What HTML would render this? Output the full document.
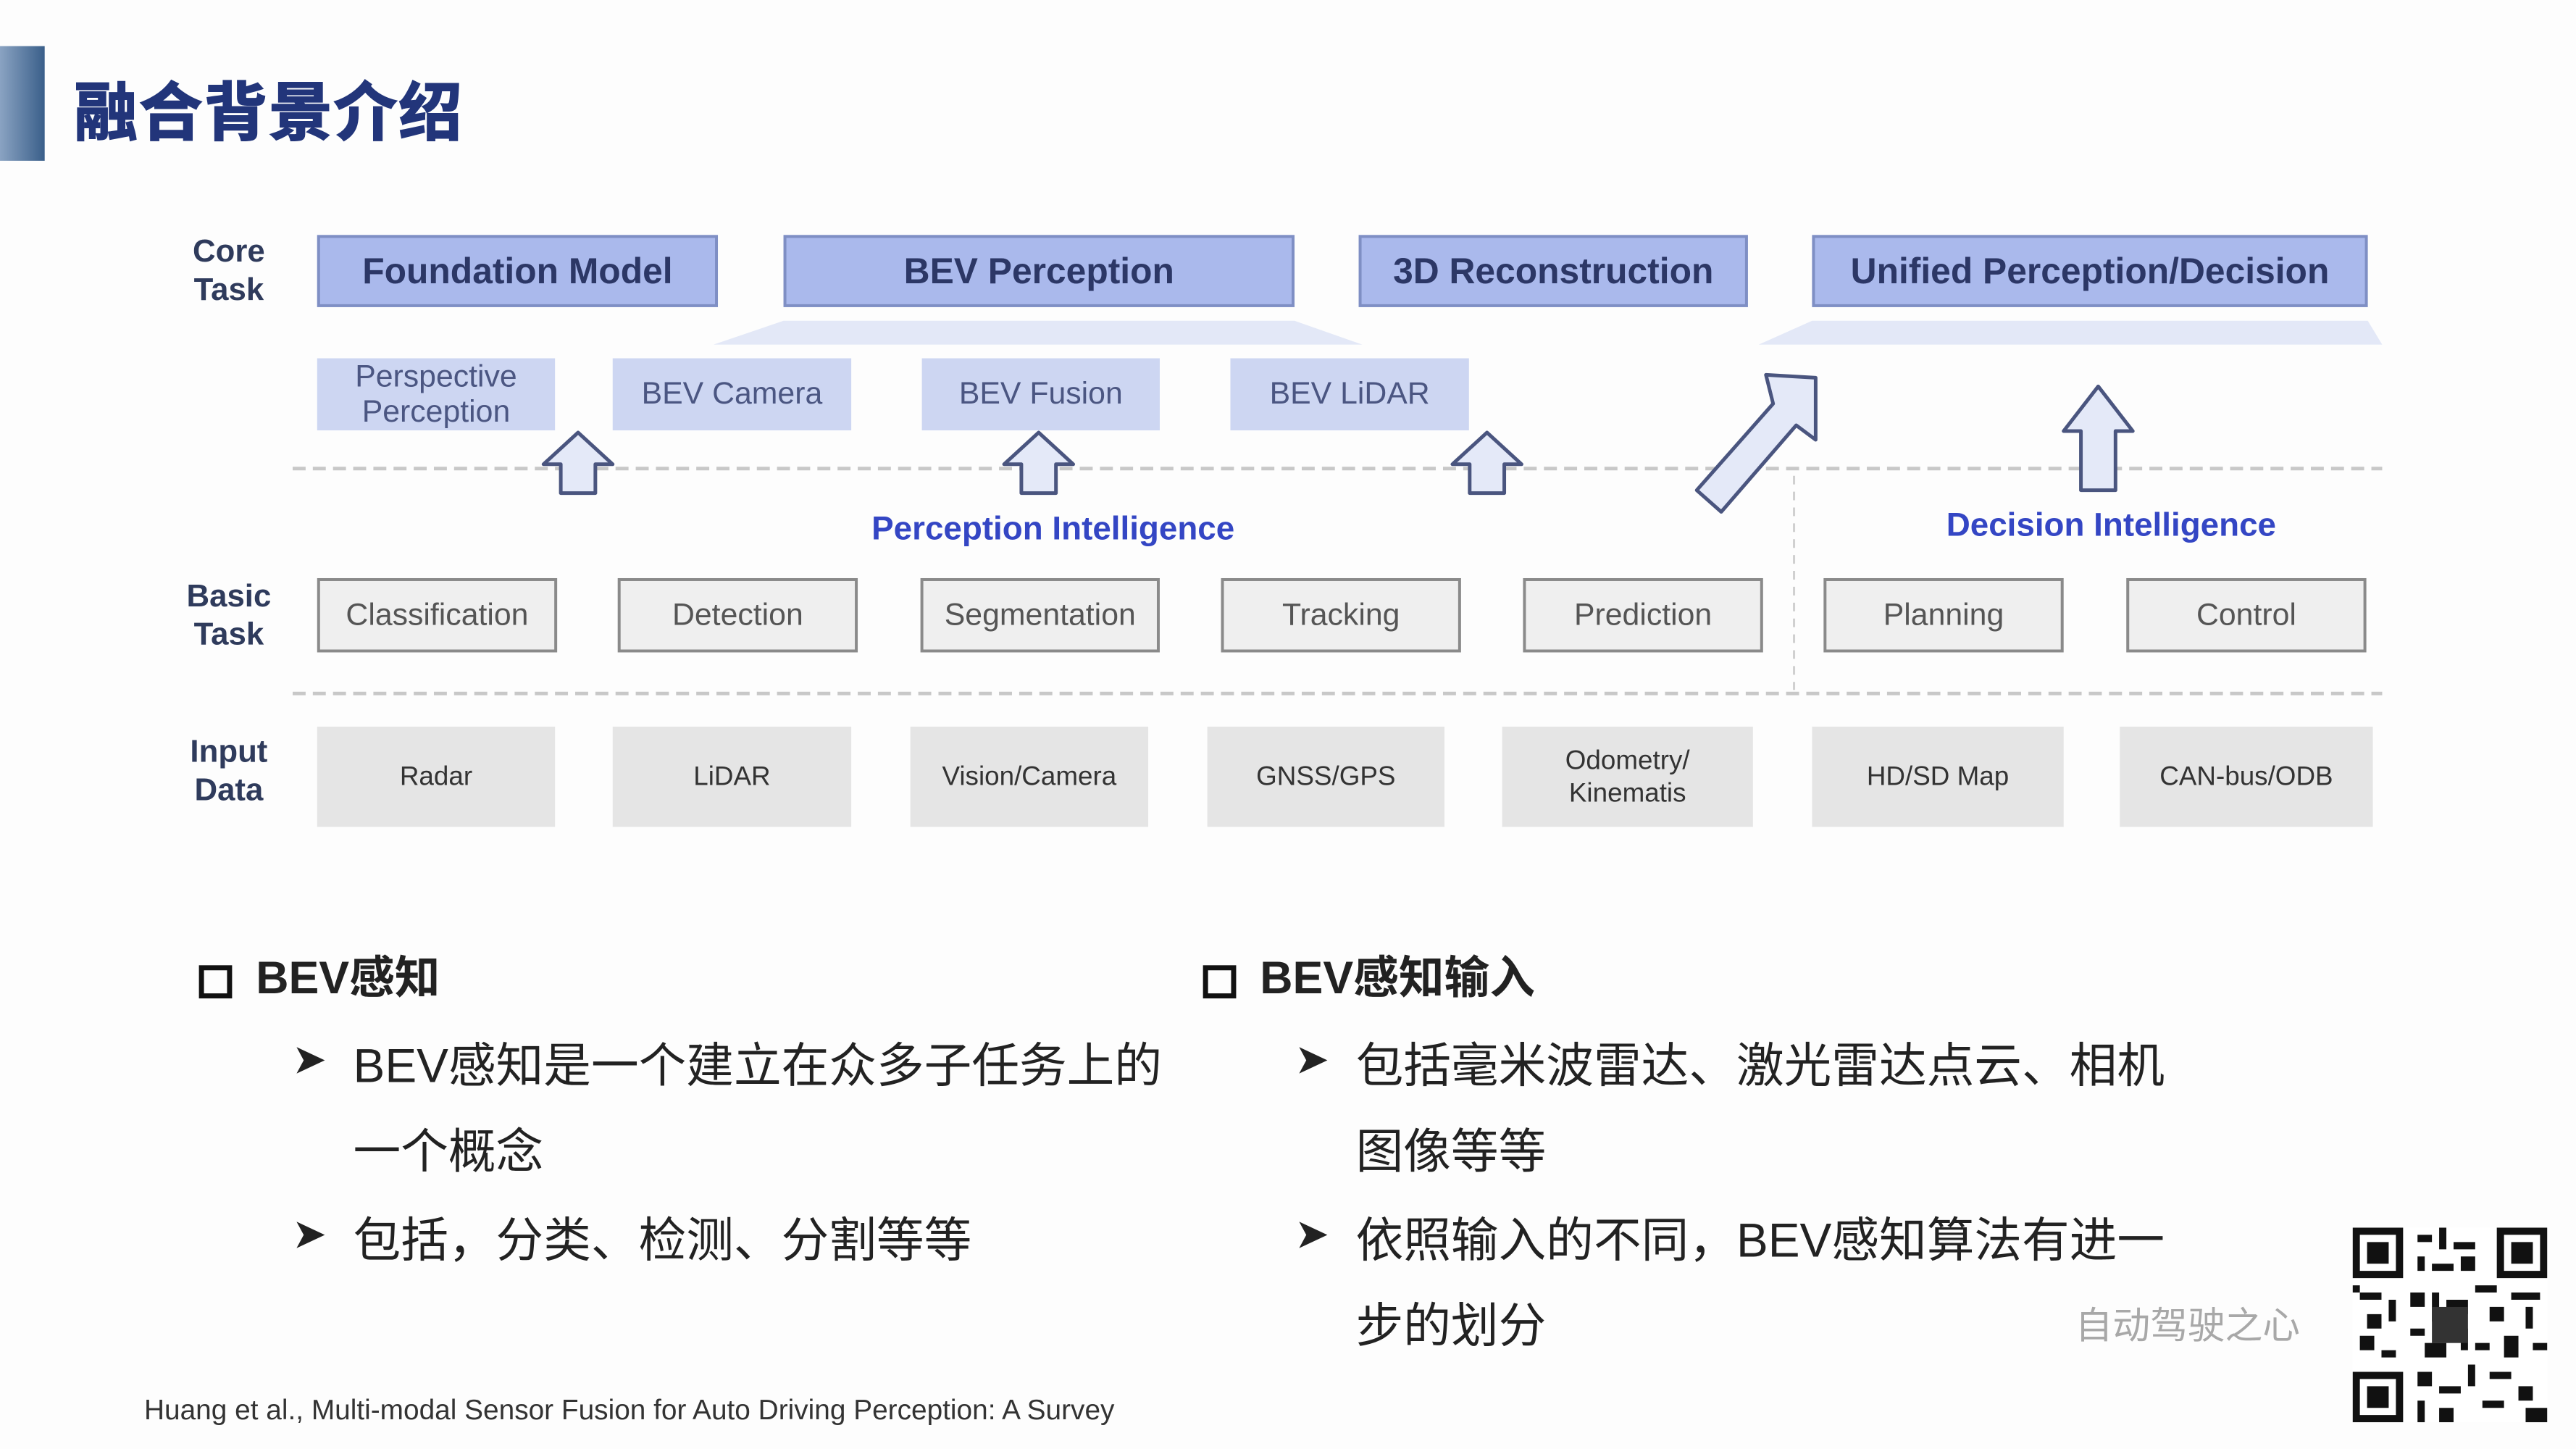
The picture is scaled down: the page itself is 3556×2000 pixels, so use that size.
<!DOCTYPE html>
<html><head><meta charset="utf-8">
<style>
*{margin:0;padding:0;box-sizing:border-box}
body{width:3556px;height:2000px;background:#fdfdfd;position:relative;overflow:hidden;font-family:"Liberation Sans","Noto Sans CJK SC",sans-serif}
#w{position:absolute;left:0;top:0;width:3556px;height:2000px;transform:scale(0.995);transform-origin:0 0}
.a{position:absolute;display:flex;align-items:center;justify-content:center;text-align:center}
.top{background:#aab9ec;border:4px solid #7f8fc4;color:#2c3766;font-weight:bold;font-size:50px}
.sec{background:#cdd6f2;color:#4b5682;font-size:43px;line-height:1.15}
.bas{background:#efefef;border:4px solid #8a8a8a;color:#555;font-size:43px}
.inp{background:#e5e5e5;color:#333;font-size:37px;line-height:1.2}
.lab{color:#2f3b5c;font-weight:bold;font-size:44px;line-height:1.2}
.pi{color:#3446c4;font-weight:bold;font-size:46px;white-space:nowrap}
.t{position:absolute;white-space:nowrap;color:#222}
</style></head><body><div id="w">
<div style="position:absolute;left:0;top:64px;width:62px;height:159px;background:linear-gradient(90deg,#8aa3c2,#3a5f8a)"></div>
<div class="t" style="left:103px;top:86px;font-size:88px;font-weight:bold;color:#22357a;letter-spacing:2px;-webkit-text-stroke:2px #22357a">融合背景介绍</div>

<div class="a lab" style="left:240px;top:326px;width:155px;height:100px">Core<br>Task</div>
<div class="a lab" style="left:240px;top:802px;width:155px;height:103px">Basic<br>Task</div>
<div class="a lab" style="left:240px;top:1015px;width:155px;height:110px">Input<br>Data</div>

<svg style="position:absolute;left:0;top:0" width="3556" height="2000">
<polygon points="1087,445 1796,445 1890,478 990,478" fill="#e3e8f7"/>
<polygon points="2514,445 3285,445 3305,478 2440,478" fill="#e3e8f7"/>
<line x1="406" y1="650" x2="3305" y2="650" stroke="#c8c8c8" stroke-width="5" stroke-dasharray="18,10"/>
<line x1="406" y1="962" x2="3305" y2="962" stroke="#c8c8c8" stroke-width="5" stroke-dasharray="18,10"/>
<line x1="2489" y1="660" x2="2489" y2="957" stroke="#d0d0d0" stroke-width="3" stroke-dasharray="12,10"/>
<g fill="#e4e9f8" stroke="#4a557f" stroke-width="5" stroke-linejoin="round">
<polygon points="802,600 850,644 826,644 826,684 778,684 778,644 754,644"/>
<polygon points="1441,600 1489,644 1465,644 1465,684 1417,684 1417,644 1393,644"/>
<polygon points="2063,600 2111,644 2087,644 2087,684 2039,684 2039,644 2015,644"/>
<polygon points="2911,536 2959,598 2935,598 2935,680 2887,680 2887,598 2863,598"/>
<polygon points="2519,524 2519,610 2492,590 2388,710 2354,680 2460,560 2450,520"/>
</g>
</svg>

<div class="a top" style="left:440px;top:326px;width:556px;height:100px">Foundation Model</div>
<div class="a top" style="left:1087px;top:326px;width:709px;height:100px">BEV Perception</div>
<div class="a top" style="left:1885px;top:326px;width:540px;height:100px">3D Reconstruction</div>
<div class="a top" style="left:2514px;top:326px;width:771px;height:100px">Unified Perception/Decision</div>

<div class="a sec" style="left:440px;top:497px;width:330px;height:100px">Perspective<br>Perception</div>
<div class="a sec" style="left:850px;top:497px;width:331px;height:100px">BEV Camera</div>
<div class="a sec" style="left:1279px;top:497px;width:330px;height:100px">BEV Fusion</div>
<div class="a sec" style="left:1707px;top:497px;width:331px;height:100px">BEV LiDAR</div>

<div class="a pi" style="left:1161px;top:702px;width:600px;height:60px">Perception Intelligence</div>
<div class="a pi" style="left:2629px;top:697px;width:600px;height:60px">Decision Intelligence</div>

<div class="a bas" style="left:440px;top:802px;width:333px;height:103px">Classification</div>
<div class="a bas" style="left:857px;top:802px;width:333px;height:103px">Detection</div>
<div class="a bas" style="left:1277px;top:802px;width:332px;height:103px">Segmentation</div>
<div class="a bas" style="left:1694px;top:802px;width:333px;height:103px">Tracking</div>
<div class="a bas" style="left:2113px;top:802px;width:333px;height:103px">Prediction</div>
<div class="a bas" style="left:2530px;top:802px;width:333px;height:103px">Planning</div>
<div class="a bas" style="left:2950px;top:802px;width:333px;height:103px">Control</div>

<div class="a inp" style="left:440px;top:1008px;width:330px;height:139px">Radar</div>
<div class="a inp" style="left:850px;top:1008px;width:331px;height:139px">LiDAR</div>
<div class="a inp" style="left:1263px;top:1008px;width:330px;height:139px">Vision/Camera</div>
<div class="a inp" style="left:1675px;top:1008px;width:329px;height:139px">GNSS/GPS</div>
<div class="a inp" style="left:2084px;top:1008px;width:348px;height:139px">Odometry/<br>Kinematis</div>
<div class="a inp" style="left:2514px;top:1008px;width:349px;height:139px">HD/SD Map</div>
<div class="a inp" style="left:2941px;top:1008px;width:351px;height:139px">CAN-bus/ODB</div>

<div style="position:absolute;left:276px;top:1339px;width:46px;height:46px;border:7px solid #111"></div>
<div class="t" style="left:355px;top:1306px;font-size:63px;font-weight:bold">BEV感知</div>
<div style="position:absolute;left:1669px;top:1339px;width:46px;height:46px;border:7px solid #111"></div>
<div class="t" style="left:1748px;top:1306px;font-size:63px;font-weight:bold">BEV感知输入</div>

<div class="t" style="left:405px;top:1435px;font-size:58px">➤</div>
<div class="t" style="left:490px;top:1425px;font-size:66px">BEV感知是一个建立在众多子任务上的</div>
<div class="t" style="left:490px;top:1544px;font-size:66px">一个概念</div>
<div class="t" style="left:405px;top:1677px;font-size:58px">➤</div>
<div class="t" style="left:490px;top:1667px;font-size:66px">包括，分类、检测、分割等等</div>

<div class="t" style="left:1796px;top:1435px;font-size:58px">➤</div>
<div class="t" style="left:1881px;top:1425px;font-size:66px">包括毫米波雷达、激光雷达点云、相机</div>
<div class="t" style="left:1881px;top:1544px;font-size:66px">图像等等</div>
<div class="t" style="left:1796px;top:1677px;font-size:58px">➤</div>
<div class="t" style="left:1881px;top:1667px;font-size:66px">依照输入的不同，BEV感知算法有进一</div>
<div class="t" style="left:1881px;top:1786px;font-size:66px">步的划分</div>

<div class="t" style="left:2879px;top:1797px;font-size:52px;color:#a8a8a8">自动驾驶之心</div>
<div class="t" style="left:200px;top:1935px;font-size:39px;color:#333">Huang et al., Multi-modal Sensor Fusion for Auto Driving Perception: A Survey</div>

<svg style="position:absolute;left:3264px;top:1703px" width="270" height="270" viewBox="0 0 27 27">
<rect width="27" height="27" fill="#fff"/>
<g fill="#111">
<path d="M0 0h7v7h-7zM20 0h7v7h-7zM0 20h7v7h-7z"/>
<path d="M9 1h2v1h-2zM12 0h1v3h-1zM14 2h3v1h-3zM9 4h1v2h-1zM11 5h3v1h-3zM15 4h2v2h-2zM17 8h3v1h-3zM8 9h2v2h-2zM1 9h3v1h-3zM5 10h1v3h-1zM2 12h2v2h-2zM11 9h1v4h-1zM13 10h3v2h-3zM19 11h2v2h-2zM22 9h4v1h-4zM24 11h1v3h-1zM8 14h2v1h-2zM10 16h3v2h-3zM15 14h1v3h-1zM17 16h2v1h-2zM21 15h2v3h-2zM25 16h2v1h-2zM9 20h2v2h-2zM12 22h3v1h-3zM16 19h1v3h-1zM19 20h3v1h-3zM23 22h2v2h-2zM18 24h3v1h-3zM9 24h1v3h-1zM12 25h2v2h-2zM24 25h3v2h-3zM1 15h2v2h-2zM4 17h2v1h-2zM0 8h1v1h-1z"/>
<rect x="11" y="11" width="5" height="5" fill="#333"/>
</g>
<g fill="#fff"><path d="M1 1h5v5h-5zM21 1h5v5h-5zM1 21h5v5h-5z"/></g>
<g fill="#111"><path d="M2 2h3v3h-3zM22 2h3v3h-3zM2 22h3v3h-3z"/></g>
</svg>
</div></body></html>
